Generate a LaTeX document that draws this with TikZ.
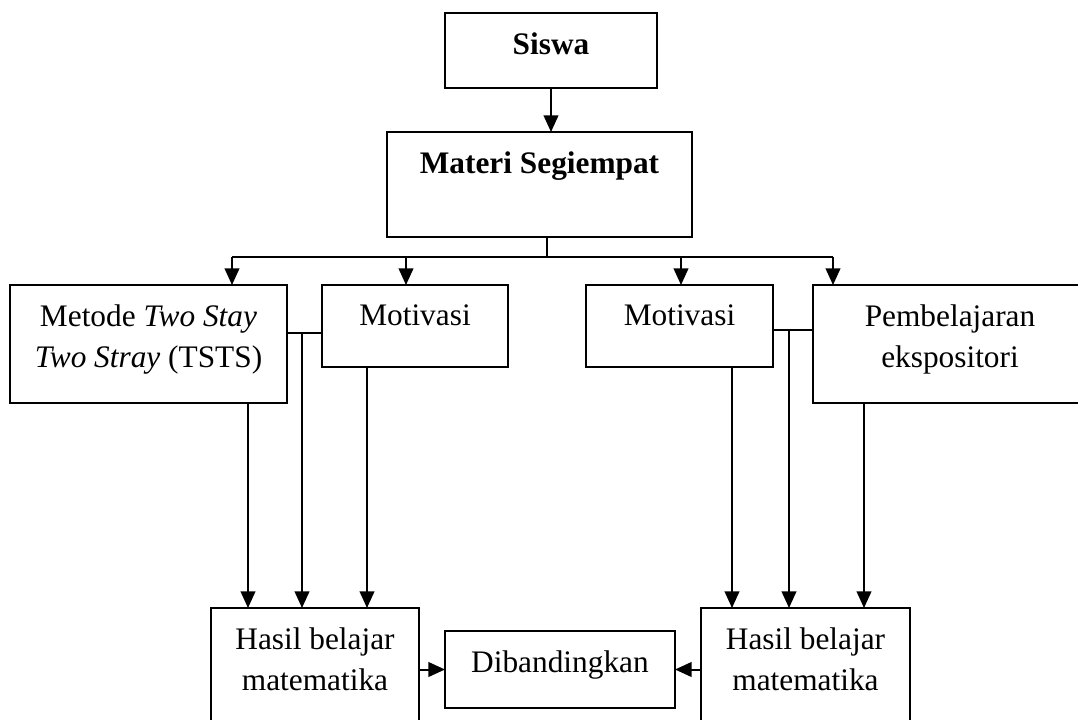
\documentclass[tikz,border=0pt]{standalone}
\usepackage{fontspec}
\setmainfont{Liberation Serif}
\usetikzlibrary{arrows.meta,positioning}
\tikzset{
  boxnd/.style={draw, line width=1.5pt, inner sep=0pt, outer sep=0pt, anchor=north west},
  txtlbl/.style={font=\fontsize{23.5}{30.75}\selectfont, inner sep=0pt, align=center, below=14.5pt},
  linkln/.style={line width=1.5pt},
  arrowln/.style={-{Triangle[length=12.5pt,width=11pt]}, line width=1.5pt},
}
\begin{document}
\begin{tikzpicture}[x=0.75pt, y=-0.75pt]
    \useasboundingbox (0,0) rectangle (1078,720);
    \clip (0,0) rectangle (1078,720);
    % top of the chart
    \node[boxnd, minimum width=159pt, minimum height=56.25pt,
      label={[txtlbl]north:\textbf{Siswa}}] (siswa) at (445,13) {};
    \node[boxnd, minimum width=228.75pt, minimum height=78.75pt,
      label={[txtlbl]north:\textbf{Materi Segiempat}}] (materi) at (387,132) {};
    % second row
    \node[boxnd, minimum width=207.75pt, minimum height=88.5pt,
      label={[txtlbl]north:{Metode \textit{Two Stay}\\\textit{Two Stray} (TSTS)}}] (metode) at (10,285) {};
    \node[boxnd, minimum width=139.5pt, minimum height=61.5pt,
      label={[txtlbl]north:Motivasi}] (motivL) at (322,285) {};
    \node[boxnd, minimum width=140.25pt, minimum height=61.5pt,
      label={[txtlbl]north:Motivasi}] (motivR) at (586,285) {};
    \node[boxnd, minimum width=205.5pt, minimum height=88.5pt,
      label={[txtlbl]north:{Pembelajaran\\ekspositori}}] (ekspos) at (813,285) {};
    % bottom row
    \node[boxnd, minimum width=156pt, minimum height=105pt,
      label={[txtlbl]north:{Hasil belajar\\matematika}}] (hasilL) at (211,608) {};
    \node[boxnd, minimum width=156.75pt, minimum height=105pt,
      label={[txtlbl]north:{Hasil belajar\\matematika}}] (hasilR) at (701,608) {};
    \node[boxnd, minimum width=172.5pt, minimum height=57.75pt,
      label={[txtlbl]north:Dibandingkan}] (banding) at (445,631) {};
    % branch points
    \coordinate (split) at (547,257);
    \coordinate (b1) at (232,257);
    \coordinate (b2) at (406,257);
    \coordinate (b3) at (681,257);
    \coordinate (b4) at (833,257);
    \coordinate (jl) at (302,333);
    \coordinate (jr) at (789,330);
    \coordinate (dl1) at (248,403);
    \coordinate (dl2) at (367,367);
    \coordinate (dr1) at (732,367);
    \coordinate (dr2) at (864,403);
    \draw[arrowln] (siswa.south) -- (siswa.south |- materi.north);
    \draw[linkln] (materi.south -| split) -- (split);
    \draw[linkln] (b1) -- (b4);
    \draw[arrowln] (b1) -- (b1 |- metode.north);
    \draw[arrowln] (b2) -- (b2 |- motivL.north);
    \draw[arrowln] (b3) -- (b3 |- motivR.north);
    \draw[arrowln] (b4) -- (b4 |- ekspos.north);
    % left branch
    \draw[linkln] (metode.east |- jl) -- (motivL.west |- jl);
    \draw[arrowln] (metode.south -| dl1) -- (hasilL.north -| dl1);
    \draw[arrowln] (jl) -- (jl |- hasilL.north);
    \draw[arrowln] (motivL.south -| dl2) -- (hasilL.north -| dl2);
    % right branch
    \draw[linkln] (motivR.east |- jr) -- (ekspos.west |- jr);
    \draw[arrowln] (motivR.south -| dr1) -- (hasilR.north -| dr1);
    \draw[arrowln] (jr) -- (jr |- hasilR.north);
    \draw[arrowln] (ekspos.south -| dr2) -- (hasilR.north -| dr2);
    % comparison
    \draw[arrowln] (hasilL.east |- banding.west) -- (banding.west);
    \draw[arrowln] (hasilR.west |- banding.east) -- (banding.east);
\end{tikzpicture}
\end{document}
